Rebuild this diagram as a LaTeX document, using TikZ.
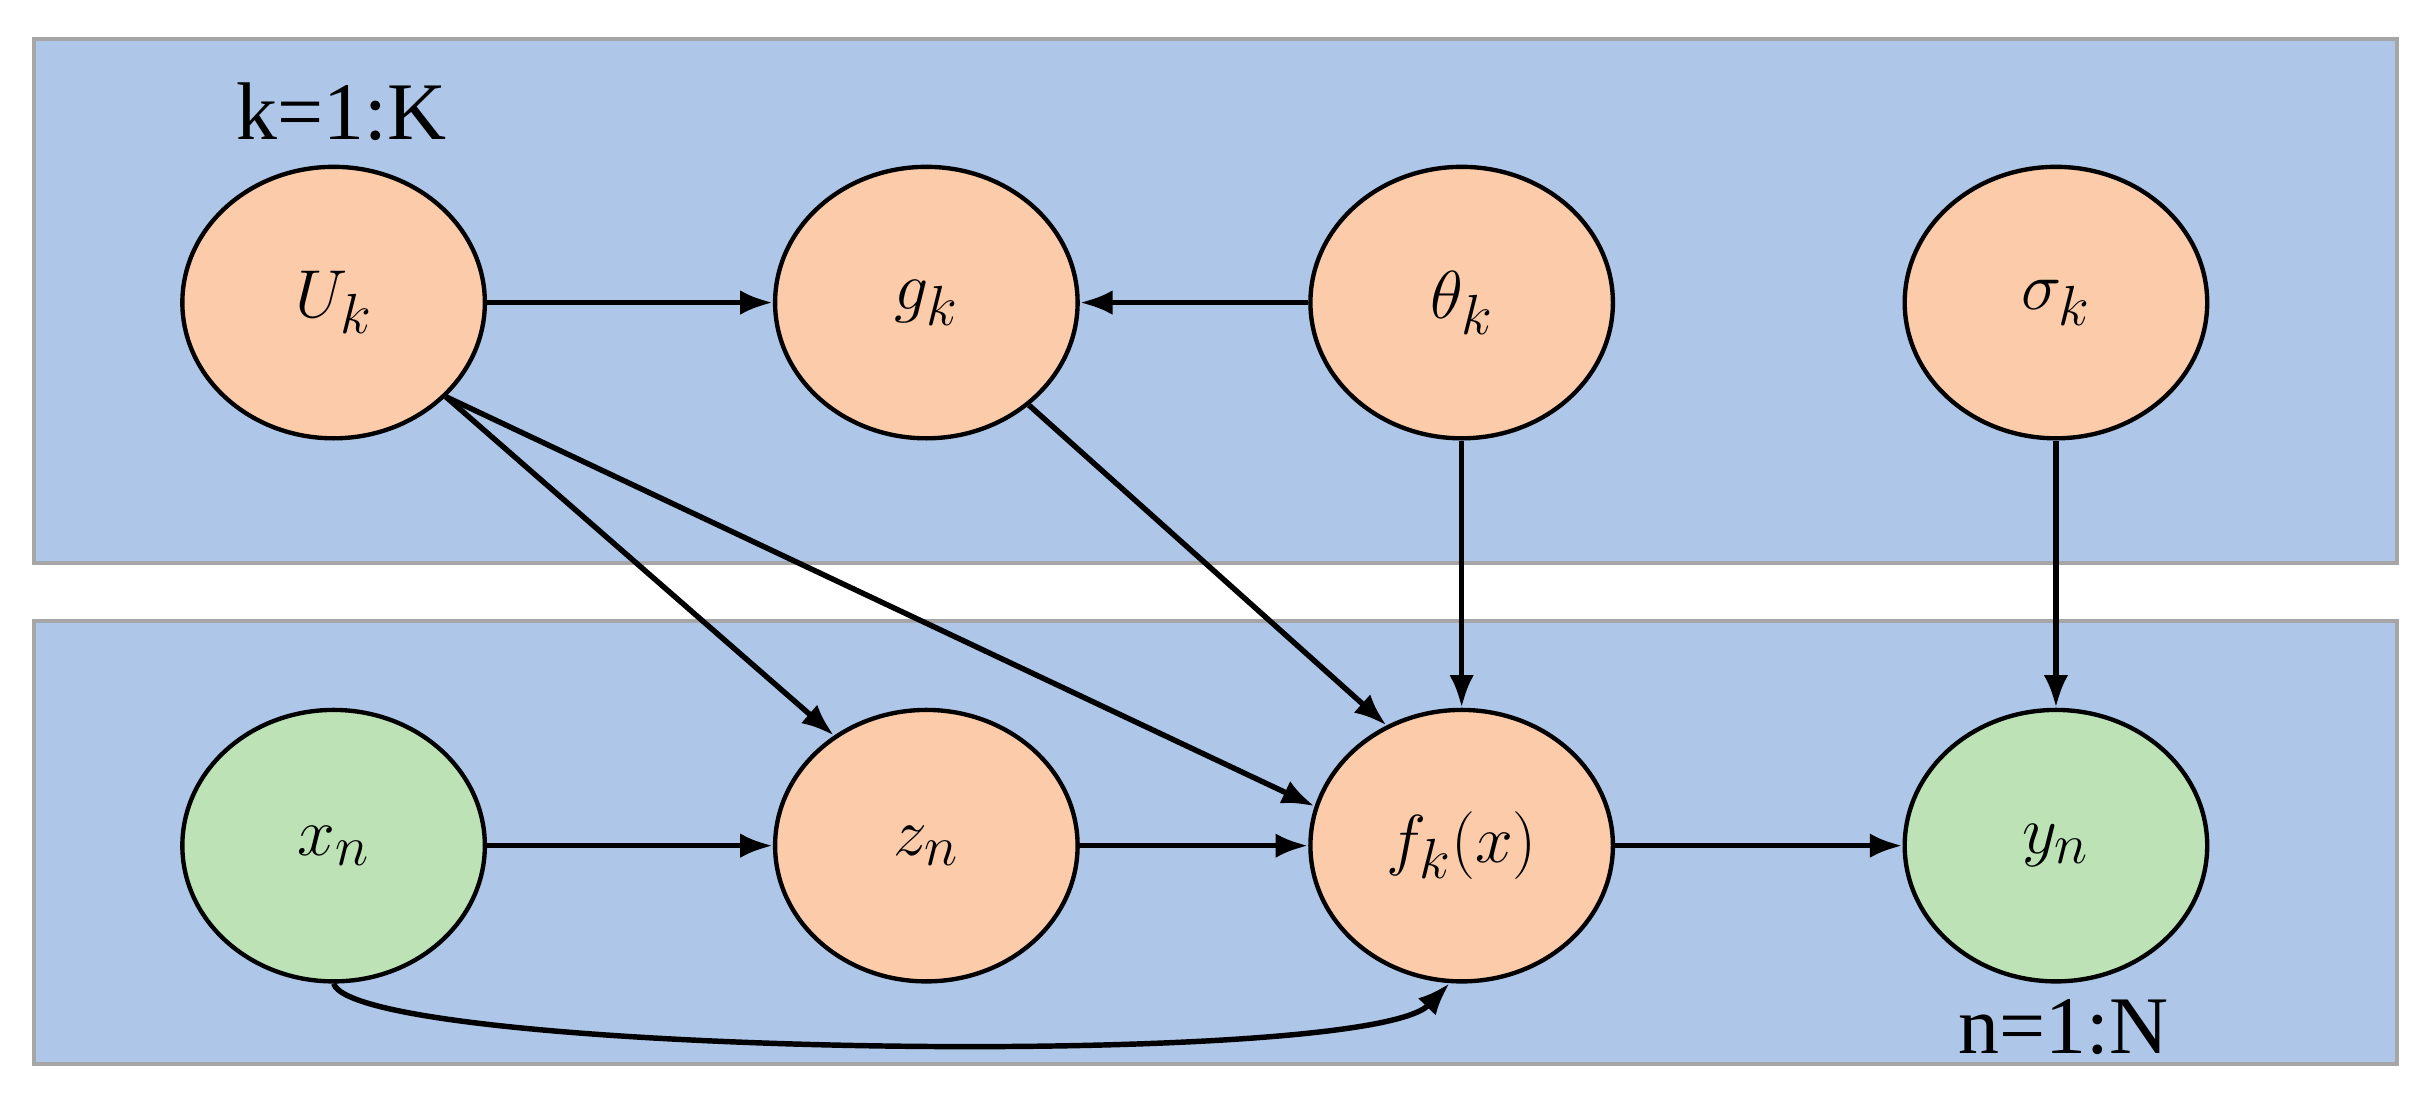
\documentclass[tikz,border=0pt]{standalone}
\usepackage{fontspec}
\setmainfont{Liberation Serif}
\usetikzlibrary{arrows.meta,shapes.geometric}
\definecolor{plate}{HTML}{AEC7E8}
\definecolor{hid}{HTML}{FBCBAA}
\definecolor{obs}{HTML}{BCE2B6}
\begin{document}
\begin{tikzpicture}[x=0.02cm,y=-0.02cm,
  box/.style={draw=gray!70,line width=1.5pt,fill=plate},
  var/.style={draw=black,line width=1.6pt,ellipse,minimum width=3.9cm,minimum height=3.5cm,font=\fontsize{30}{36}\selectfont},
  arr/.style={-{Latex[length=12pt,width=9pt]},line width=2pt},
  lab/.style={font=\fontsize{30}{36}\selectfont}]
\useasboundingbox (0,0) rectangle (1568,710);
\fill[white] (0,0) rectangle (1568,710);
\draw[box] (22,25) rectangle (1545,363);
\draw[box] (22,400) rectangle (1545,686);
\node[lab] (kl) at (220,72) {k=1:K};
\node[lab] (nl) at (1330,662) {n=1:N};
\node[var,fill=hid] (U) at (215,195) {$U_k$};
\node[var,fill=hid] (g) at (597,195) {$g_k$};
\node[var,fill=hid] (th) at (942,195) {$\theta_k$};
\node[var,fill=hid] (s) at (1325,195) {$\sigma_k$};
\node[var,fill=obs] (x) at (215,545) {$x_n$};
\node[var,fill=hid] (z) at (597,545) {$z_n$};
\node[var,fill=hid] (f) at (942,545) {$f_k(x)$};
\node[var,fill=obs] (y) at (1325,545) {$y_n$};
\draw[arr] (U) -- (g);
\draw[arr] (th) -- (g);
\draw[arr] (U.-40) -- (z.130);
\draw[arr] (U.-40) -- (f.165);
\draw[arr] (g.-45) -- (f.122);
\draw[arr] (th) -- (f);
\draw[arr] (s) -- (y);
\draw[arr] (x) -- (z);
\draw[arr] (z) -- (f);
\draw[arr] (f) -- (y);
\draw[arr] (x.south) .. controls (230,680) and (880,690) .. (f.-95);
\end{tikzpicture}
\end{document}
